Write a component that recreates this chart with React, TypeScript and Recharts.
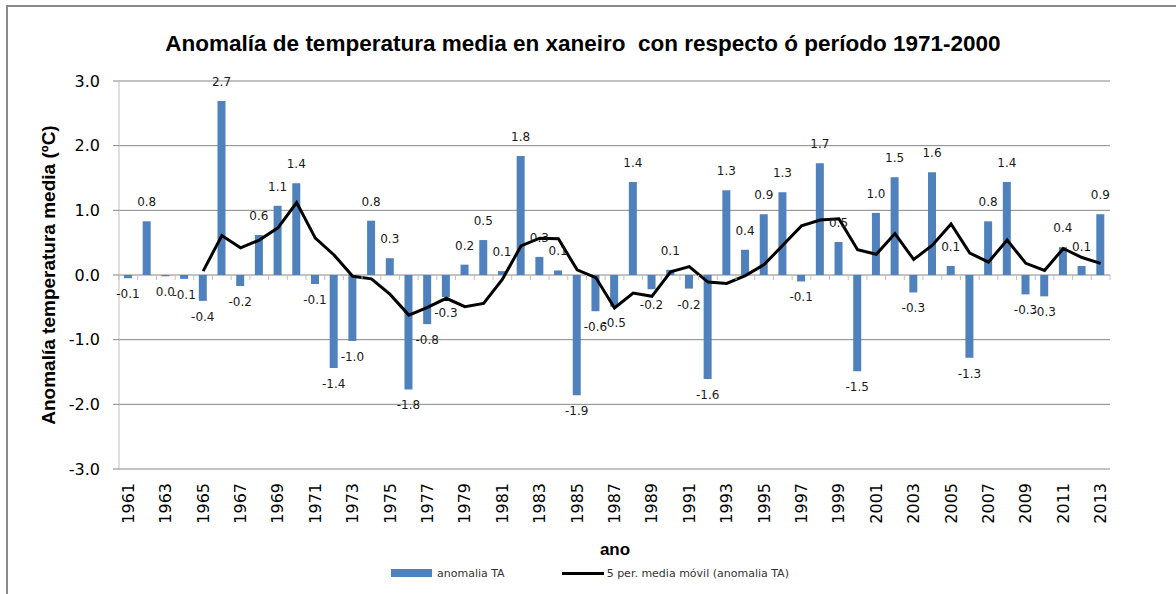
import { ComposedChart, Bar, Line, XAxis, YAxis, CartesianGrid, LabelList } from 'recharts';

const years = [
    '1961', '1962', '1963', '1964', '1965', '1966', '1967', '1968', '1969', '1970',
    '1971', '1972', '1973', '1974', '1975', '1976', '1977', '1978', '1979', '1980',
    '1981', '1982', '1983', '1984', '1985', '1986', '1987', '1988', '1989', '1990',
    '1991', '1992', '1993', '1994', '1995', '1996', '1997', '1998', '1999', '2000',
    '2001', '2002', '2003', '2004', '2005', '2006', '2007', '2008', '2009', '2010',
    '2011', '2012', '2013',
];

// anomalia TA (ºC)
const anomaly = [
    -0.05, 0.83, -0.02, -0.06, -0.4, 2.69, -0.17, 0.62, 1.07, 1.42,
    -0.14, -1.44, -1.02, 0.84, 0.26, -1.77, -0.76, -0.34, 0.16, 0.54,
    0.06, 1.84, 0.28, 0.07, -1.86, -0.56, -0.49, 1.44, -0.22, 0.08,
    -0.21, -1.61, 1.31, 0.39, 0.94, 1.28, -0.1, 1.73, 0.51, -1.49,
    0.96, 1.51, -0.27, 1.59, 0.14, -1.28, 0.83, 1.44, -0.3, -0.33,
    0.43, 0.14, 0.94,
];

// 5 per. media móvil
const movingAvg = [
    null, null, null, null, 0.06, 0.61, 0.42, 0.54, 0.73, 1.12,
    0.57, 0.31, -0.02, -0.06, -0.3, -0.62, -0.5, -0.36, -0.49, -0.44,
    -0.07, 0.45, 0.57, 0.56, 0.08, -0.04, -0.51, -0.28, -0.33, 0.05,
    0.13, -0.11, -0.13, -0.01, 0.16, 0.46, 0.76, 0.85, 0.87, 0.39,
    0.32, 0.64, 0.24, 0.46, 0.79, 0.34, 0.2, 0.54, 0.18, 0.07,
    0.41, 0.27, 0.18,
];

const yTicks = [-3, -2, -1, 0, 1, 2, 3];

const W = 1176;
const H = 594;
const MARGIN = { top: 81, right: 66, bottom: 0, left: 0 };
const Y_AXIS_W = 119;
const X_AXIS_H = 125;
const PLOT_W = W - MARGIN.right - Y_AXIS_W;
const PLOT_H = H - MARGIN.top - X_AXIS_H;
const ZERO_Y = MARGIN.top + PLOT_H / 2;
const LABEL_TOP = 483;

const BLUE = '#4F81BD';
const GRID = '#868686';

const data = years.map((year, i) => ({
    year,
    anomaly: anomaly[i],
    avg: movingAvg[i],
}));

const fmt = (v: number) => {
    const s = v.toFixed(1);
    return s === '-0.0' ? '0.0' : s;
};

function YearTick(props: any) {
    const { x, payload, index } = props;
    const half = PLOT_W / years.length / 2;
    return (
        <g>
            <line x1={x - half} x2={x - half} y1={ZERO_Y} y2={ZERO_Y + 5} stroke="#bfbfbf" />
            {index === years.length - 1 && (
                <line x1={x + half} x2={x + half} y1={ZERO_Y} y2={ZERO_Y + 5} stroke="#bfbfbf" />
            )}
            {index % 2 === 0 && (
                <text
                    x={x}
                    y={LABEL_TOP}
                    transform={`rotate(-90 ${x} ${LABEL_TOP})`}
                    textAnchor="end"
                    dominantBaseline="central"
                    fontFamily="DejaVu Sans"
                    fontSize={16}
                    fill="#000"
                >
                    {payload.value}
                </text>
            )}
        </g>
    );
}

function BarValue(props: any) {
    const { x, y, width, height, value } = props;
    const top = Math.min(y, y + height);
    const bottom = Math.max(y, y + height);
    const ty = value > 0 ? top - 15 : bottom + 20;
    return (
        <text
            x={x + width / 2}
            y={ty}
            textAnchor="middle"
            fontFamily="DejaVu Sans"
            fontSize={12}
            fill="#1a1a1a"
        >
            {fmt(Number(value))}
        </text>
    );
}

export default function App() {
    return (
        <div
            style={{
                position: 'absolute',
                left: 0,
                top: 0,
                width: W,
                height: H,
                overflow: 'hidden',
                background: '#fff',
                fontFamily: 'Liberation Sans, Arial, sans-serif',
            }}
        >
            <div
                style={{
                    position: 'absolute',
                    left: 6,
                    top: 5,
                    width: 1300,
                    height: 700,
                    borderTop: '2px solid #8a8a8a',
                    borderLeft: '2px solid #8a8a8a',
                }}
            />
            <div
                style={{
                    position: 'absolute',
                    left: 0,
                    width: 1166,
                    top: 31,
                    textAlign: 'center',
                    fontWeight: 'bold',
                    fontSize: 22.5,
                    whiteSpace: 'pre',
                }}
            >
                Anomalía de temperatura media en xaneiro  con respecto ó período 1971-2000
            </div>

            <div style={{ position: 'absolute', left: 0, top: 0 }}>
                <ComposedChart width={W} height={H} data={data} margin={MARGIN}>
                    <CartesianGrid vertical={false} stroke={GRID} />
                    <XAxis
                        dataKey="year"
                        height={X_AXIS_H}
                        interval={0}
                        axisLine={false}
                        tickLine={false}
                        tick={<YearTick />}
                    />
                    <YAxis
                        width={Y_AXIS_W}
                        domain={[-3, 3]}
                        ticks={yTicks}
                        tickFormatter={(v: number) => v.toFixed(1)}
                        axisLine={{ stroke: '#bfbfbf' }}
                        tickLine={{ stroke: GRID }}
                        tickSize={6}
                        tickMargin={13}
                        tick={{ fontFamily: 'DejaVu Sans', fontSize: 16, fill: '#000' }}
                    />
                    <Bar dataKey="anomaly" fill={BLUE} barSize={8} isAnimationActive={false}>
                        <LabelList dataKey="anomaly" content={<BarValue />} />
                    </Bar>
                    <Line
                        dataKey="avg"
                        type="linear"
                        stroke="#000"
                        strokeWidth={3}
                        dot={false}
                        activeDot={false}
                        isAnimationActive={false}
                    />
                </ComposedChart>
            </div>

            <div
                style={{
                    position: 'absolute',
                    left: 49,
                    top: 275,
                    transform: 'translate(-50%, -50%) rotate(-90deg)',
                    whiteSpace: 'nowrap',
                    fontWeight: 'bold',
                    fontSize: 19,
                }}
            >
                Anomalía temperatura media (ºC)
            </div>

            <div
                style={{
                    position: 'absolute',
                    left: 615,
                    top: 550,
                    transform: 'translate(-50%, -50%)',
                    fontWeight: 'bold',
                    fontSize: 17,
                }}
            >
                ano
            </div>

            <div
                style={{
                    position: 'absolute',
                    left: 391,
                    top: 565,
                    display: 'flex',
                    alignItems: 'center',
                    fontFamily: 'DejaVu Sans',
                    fontSize: 11,
                    color: '#333',
                    height: 16,
                }}
            >
                <span style={{ width: 41, height: 8, background: BLUE, marginRight: 5 }} />
                <span>anomalia TA</span>
                <span style={{ width: 42, height: 3, background: '#000', marginLeft: 57, marginRight: 3 }} />
                <span>5 per. media móvil (anomalia TA)</span>
            </div>
        </div>
    );
}
